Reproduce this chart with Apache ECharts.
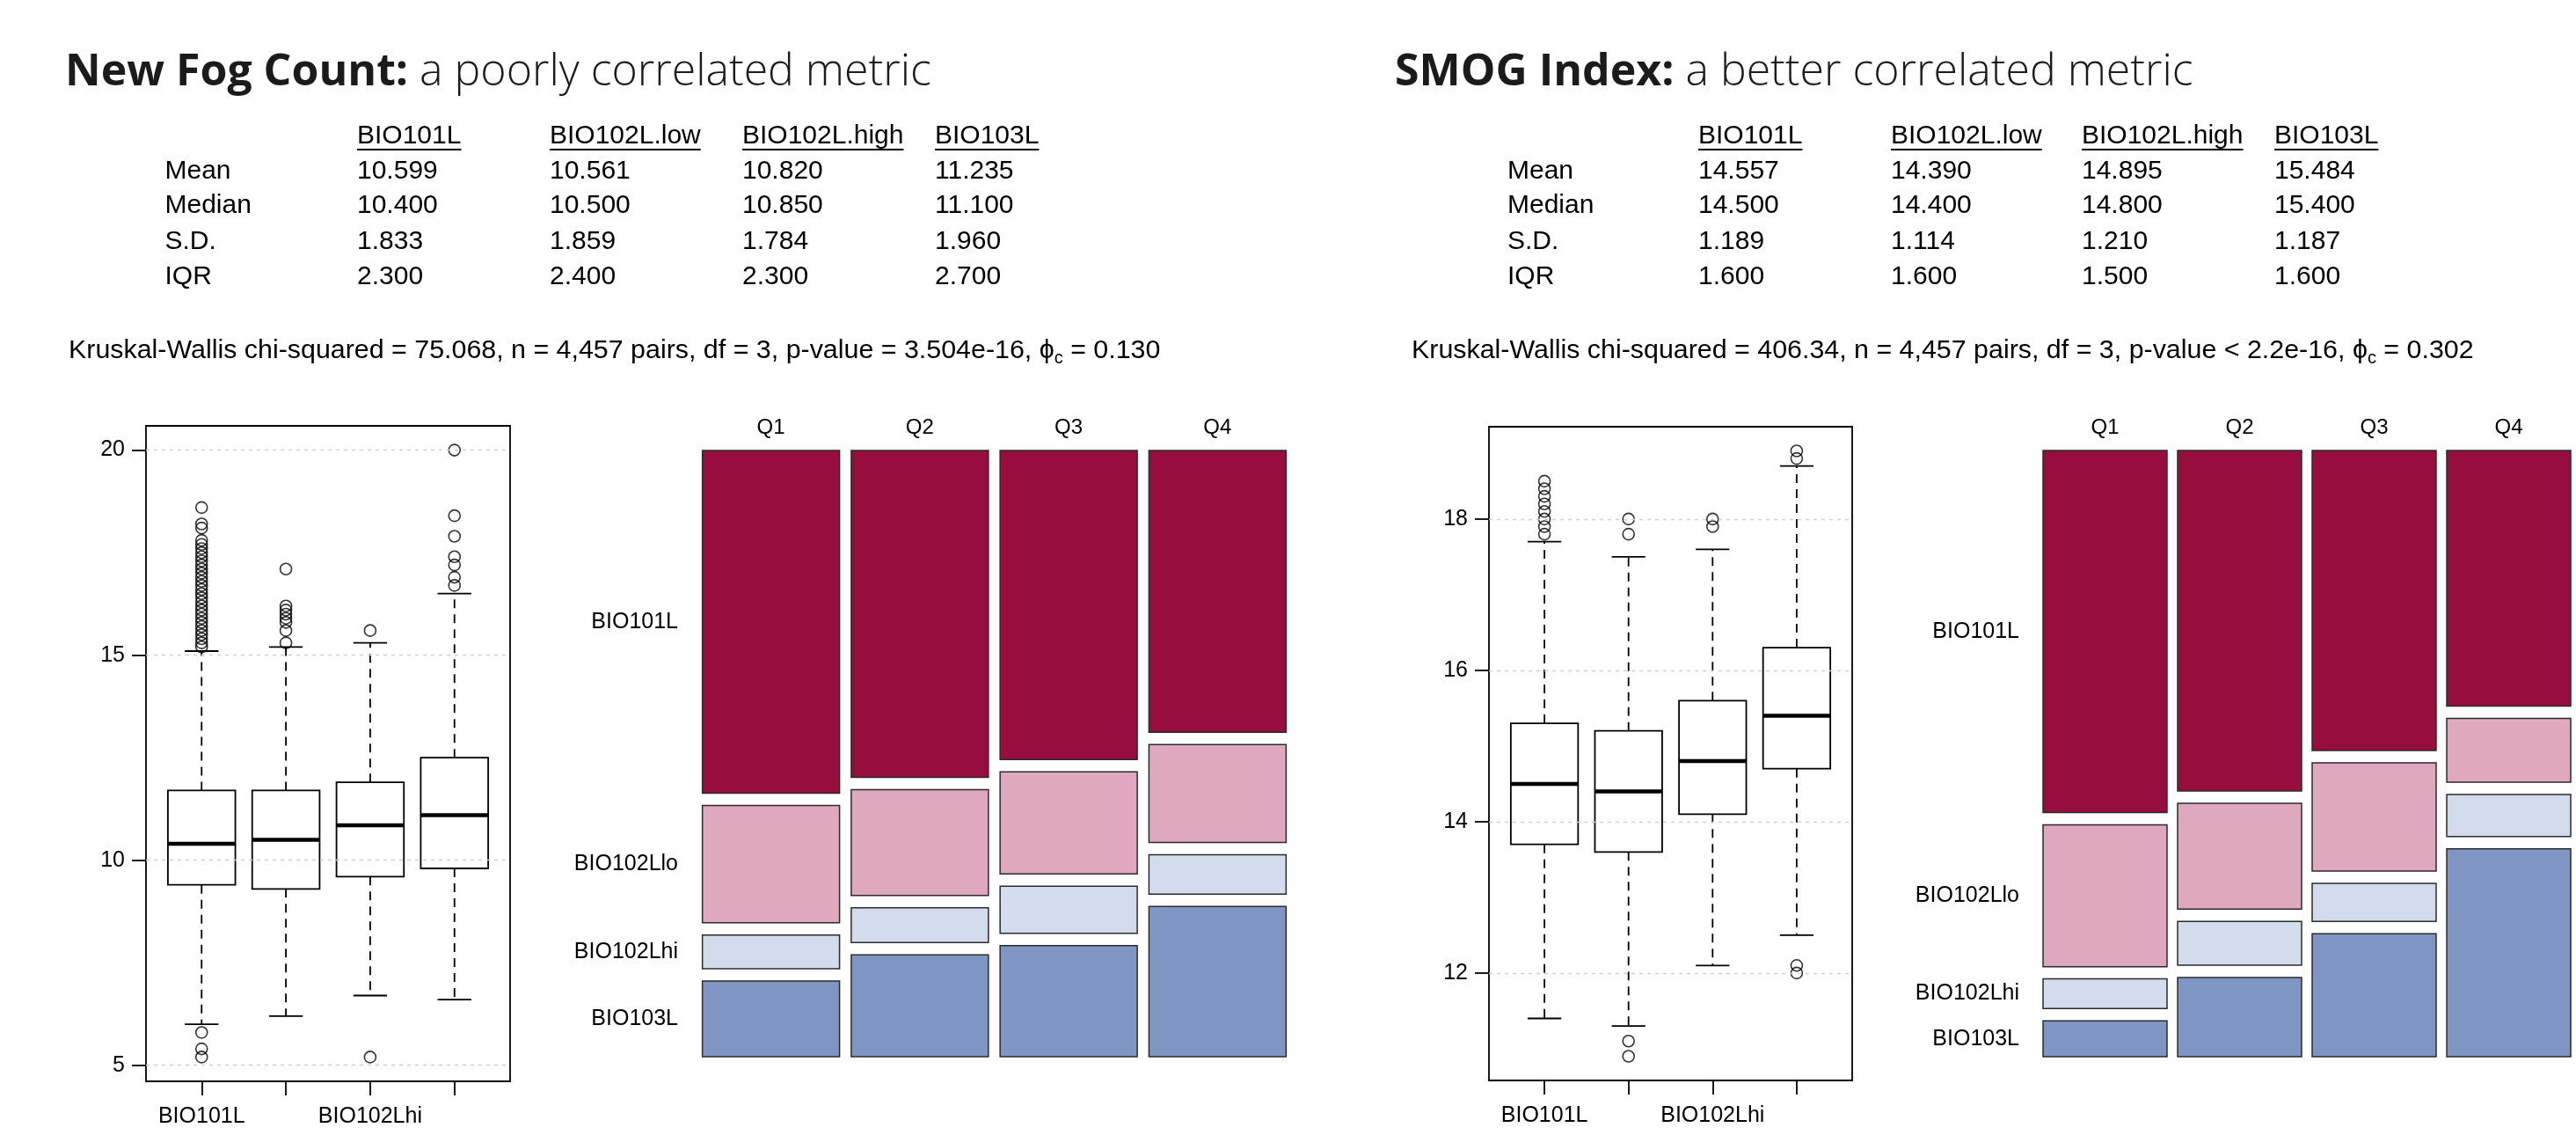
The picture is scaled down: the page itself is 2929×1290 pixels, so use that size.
<!DOCTYPE html>
<html>
<head>
<meta charset="utf-8">
<script src="https://cdn.jsdelivr.net/npm/echarts@6/dist/echarts.min.js"></script>
<style>
  html, body { margin: 0; padding: 0; background: #ffffff; }
  #chart { width: 2929px; height: 1290px; }
</style>
</head>
<body>
<div id="chart"></div>
<script>
// ---- data ----
const courses = ['BIO101L', 'BIO102L.low', 'BIO102L.high', 'BIO103L'];
const boxLabels = ['BIO101L', 'BIO102Llo', 'BIO102Lhi', 'BIO103L'];
const quartiles = ['Q1', 'Q2', 'Q3', 'Q4'];
const statRows = ['Mean', 'Median', 'S.D.', 'IQR'];

// New Fog Count summary table
const fogMean = [10.599, 10.561, 10.820, 11.235];
const fogMedian = [10.400, 10.500, 10.850, 11.100];
const fogSD = [1.833, 1.859, 1.784, 1.960];
const fogIQR = [2.300, 2.400, 2.300, 2.700];

// SMOG Index summary table
const smogMean = [14.557, 14.390, 14.895, 15.484];
const smogMedian = [14.500, 14.400, 14.800, 15.400];
const smogSD = [1.189, 1.114, 1.210, 1.187];
const smogIQR = [1.600, 1.600, 1.500, 1.600];

// boxplot five-number summaries: [lower whisker, Q1, median, Q3, upper whisker]
const fogBoxes = [
  [6.0, 9.4, 10.4, 11.7, 15.1],
  [6.2, 9.3, 10.5, 11.7, 15.2],
  [6.7, 9.6, 10.85, 11.9, 15.3],
  [6.6, 9.8, 11.1, 12.5, 16.5]
];
const fogOutliers = [
  [5.2, 5.4, 5.8, 15.2, 15.3, 15.4, 15.5, 15.6, 15.7, 15.8, 15.9, 16.0, 16.1, 16.2, 16.3,
   16.4, 16.5, 16.6, 16.7, 16.8, 16.9, 17.0, 17.1, 17.2, 17.3, 17.4, 17.5, 17.6, 17.7, 17.8,
   18.1, 18.2, 18.6],
  [15.3, 15.6, 15.8, 15.9, 16.0, 16.1, 16.2, 17.1],
  [5.2, 15.6],
  [16.7, 16.9, 17.2, 17.4, 17.9, 18.4, 20.0]
];
const fogTicks = [5, 10, 15, 20];

const smogBoxes = [
  [11.4, 13.7, 14.5, 15.3, 17.7],
  [11.3, 13.6, 14.4, 15.2, 17.5],
  [12.1, 14.1, 14.8, 15.6, 17.6],
  [12.5, 14.7, 15.4, 16.3, 18.7]
];
const smogOutliers = [
  [17.8, 17.9, 18.0, 18.1, 18.2, 18.3, 18.4, 18.5],
  [10.9, 11.1, 17.8, 18.0],
  [17.9, 18.0],
  [12.0, 12.1, 18.8, 18.9]
];
const smogTicks = [12, 14, 16, 18];

// mosaic: share of each course within each quartile (rows: Q1..Q4, cols: courses)
const fogShares = [
  [0.602, 0.206, 0.059, 0.133],
  [0.574, 0.186, 0.061, 0.179],
  [0.543, 0.179, 0.083, 0.195],
  [0.495, 0.172, 0.069, 0.264]
];
const smogShares = [
  [0.636, 0.249, 0.052, 0.063],
  [0.598, 0.186, 0.077, 0.139],
  [0.527, 0.190, 0.067, 0.216],
  [0.449, 0.112, 0.074, 0.365]
];

const fogTest = 'Kruskal-Wallis chi-squared = 75.068, n = 4,457 pairs, df = 3, p-value = 3.504e-16, ';
const fogPhi = ' = 0.130';
const smogTest = 'Kruskal-Wallis chi-squared = 406.34, n = 4,457 pairs, df = 3, p-value < 2.2e-16, ';
const smogPhi = ' = 0.302';

// ---- styling ----
const FONT = '"Liberation Sans", Arial, Helvetica, sans-serif';
const TITLE_FONT = '"Open Sans", Lato, sans-serif';
const courseColors = ['#970D3E', '#DFA8BE', '#D3DCEC', '#7F96C5'];
const GAP_X = 0.0786;   // horizontal gap between mosaic columns (axis units)
const GAP_Y = 0.0216;   // vertical gap between mosaic tiles (axis units)

// ---- helpers ----
const measureCtx = document.createElement('canvas').getContext('2d');
function textWidth(str, size) {
  measureCtx.font = size + 'px ' + FONT;
  return measureCtx.measureText(str).width;
}

function padRange(boxes, outliers) {
  const all = [].concat(...boxes, ...outliers);
  const lo = Math.min(...all), hi = Math.max(...all);
  const pad = (hi - lo) * 0.04;
  return [lo - pad, hi + pad];
}

function boxSeriesData(boxes) {
  return boxes.map((b, i) => [i + 1].concat(b));
}
function outlierData(outliers) {
  const out = [];
  outliers.forEach((list, i) => list.forEach(v => out.push([i + 1, v])));
  return out;
}
function mosaicData(shares) {
  const out = [];
  shares.forEach((col, c) => {
    let cum = 0;
    col.forEach((s, j) => {
      out.push([c, j, cum + j * GAP_Y, cum + s + j * GAP_Y]);
      cum += s;
    });
  });
  return out;
}
function rowCenters(shares) {
  const first = shares[0];
  let cum = 0;
  return first.map((s, j) => {
    const c = cum + s / 2 + j * GAP_Y;
    cum += s;
    return c;
  });
}

function renderBox(params, api) {
  const x = api.value(0);
  const lo = api.coord([x, api.value(1)]);
  const q1 = api.coord([x, api.value(2)]);
  const md = api.coord([x, api.value(3)]);
  const q3 = api.coord([x, api.value(4)]);
  const hi = api.coord([x, api.value(5)]);
  const boxW = api.size([0.8, 0])[0];
  const capW = boxW / 2;
  const cx = q1[0];
  const dash = { stroke: '#000', lineWidth: 1.8, lineDash: [10, 7], fill: null };
  const solid = { stroke: '#000', lineWidth: 1.8, fill: null };
  return {
    type: 'group',
    children: [
      { type: 'line', shape: { x1: cx, y1: q3[1], x2: cx, y2: hi[1] }, style: dash },
      { type: 'line', shape: { x1: cx, y1: q1[1], x2: cx, y2: lo[1] }, style: dash },
      { type: 'line', shape: { x1: cx - capW / 2, y1: hi[1], x2: cx + capW / 2, y2: hi[1] }, style: solid },
      { type: 'line', shape: { x1: cx - capW / 2, y1: lo[1], x2: cx + capW / 2, y2: lo[1] }, style: solid },
      { type: 'rect', shape: { x: cx - boxW / 2, y: q3[1], width: boxW, height: q1[1] - q3[1] },
        style: { fill: '#ffffff', stroke: '#000', lineWidth: 1.8 } },
      { type: 'line', shape: { x1: cx - boxW / 2, y1: md[1], x2: cx + boxW / 2, y2: md[1] },
        style: { stroke: '#000', lineWidth: 4.5 } }
    ]
  };
}

function renderTile(params, api) {
  const c = api.value(0);
  const j = api.value(1);
  const p0 = api.coord([c + GAP_X / 2, api.value(2)]);
  const p1 = api.coord([c + 1 - GAP_X / 2, api.value(3)]);
  return {
    type: 'rect',
    shape: { x: p0[0], y: p0[1], width: p1[0] - p0[0], height: p1[1] - p0[1] },
    style: { fill: courseColors[j], stroke: '#2b2b2b', lineWidth: 1.5 }
  };
}

// ---- text blocks (titles, tables, test lines) ----
function txt(x, y, text, size, align) {
  return {
    type: 'text', x: x, y: y, silent: true,
    style: {
      text: text, fontSize: size, fontFamily: FONT, fill: '#000',
      align: align || 'left', verticalAlign: 'middle',
      textAlign: align || 'left', textVerticalAlign: 'middle'
    }
  };
}

function titleText(x, y, bold, rest) {
  return {
    type: 'text', x: x, y: y, silent: true,
    style: {
      text: '{b|' + bold + '}{r|' + rest + '}',
      verticalAlign: 'middle', textVerticalAlign: 'middle',
      rich: {
        b: { fontFamily: TITLE_FONT, fontWeight: 700, fontSize: 50, fill: '#1b1b1b' },
        r: { fontFamily: TITLE_FONT, fontWeight: 300, fontSize: 50, fill: '#1b1b1b' }
      }
    }
  };
}

function testLine(x, y, body, tail) {
  return {
    type: 'text', x: x, y: y, silent: true,
    style: {
      text: '{t|' + body + '}{t|ϕ}{s|c}{t|' + tail + '}',
      verticalAlign: 'middle', textVerticalAlign: 'middle',
      rich: {
        t: { fontFamily: FONT, fontSize: 30.4, fill: '#000', lineHeight: 36 },
        s: { fontFamily: FONT, fontSize: 20, fill: '#000', lineHeight: 15, verticalAlign: 'bottom' }
      }
    }
  };
}

const TABLE_FS = 30;
const rowY = [155, 195, 234, 275, 315];

function tableBlock(labelX, colX, cols) {
  const els = [];
  courses.forEach((name, i) => {
    els.push(txt(colX[i], rowY[0], name, TABLE_FS));
    const w = textWidth(name, TABLE_FS);
    els.push({ type: 'line', silent: true,
      shape: { x1: colX[i], y1: rowY[0] + 15, x2: colX[i] + w, y2: rowY[0] + 15 },
      style: { stroke: '#000', lineWidth: 2 } });
  });
  statRows.forEach((label, r) => {
    els.push(txt(labelX, rowY[r + 1], label, TABLE_FS));
    cols[r].forEach((v, i) => els.push(txt(colX[i], rowY[r + 1], v.toFixed(3), TABLE_FS)));
  });
  return els;
}

const graphics = [].concat(
  [titleText(74, 83, 'New Fog Count:', ' a poorly correlated metric'),
   titleText(1586, 83, 'SMOG Index:', ' a better correlated metric')],
  tableBlock(187.5, [406, 625, 844, 1063], [fogMean, fogMedian, fogSD, fogIQR]),
  tableBlock(1714, [1931, 2150, 2367, 2586], [smogMean, smogMedian, smogSD, smogIQR]),
  [testLine(78, 399, fogTest, fogPhi), testLine(1605, 399, smogTest, smogPhi)]
);

// ---- axes ----
const fogRange = padRange(fogBoxes, fogOutliers);
const smogRange = padRange(smogBoxes, smogOutliers);
const fogCenters = rowCenters(fogShares);
const smogCenters = rowCenters(smogShares);
const mosaicMax = 1 + 3 * GAP_Y;

function boxXAxis(gridIndex) {
  return {
    type: 'value', gridIndex: gridIndex, min: 0.34, max: 4.66,
    axisLine: { show: false }, splitLine: { show: false },
    axisTick: { show: true, customValues: [1, 2, 3, 4], length: 16, inside: false,
      lineStyle: { color: '#000', width: 1.8 } },
    axisLabel: { show: true, customValues: [1, 3], margin: 28, fontSize: 25, fontFamily: FONT,
      color: '#000', formatter: v => boxLabels[Math.round(v) - 1] }
  };
}
function boxYAxis(gridIndex, range, ticks) {
  return {
    type: 'value', gridIndex: gridIndex, min: range[0], max: range[1],
    axisLine: { show: false }, splitLine: { show: false },
    axisTick: { show: true, customValues: ticks, length: 16, inside: false,
      lineStyle: { color: '#000', width: 1.8 } },
    axisLabel: { show: true, customValues: ticks, margin: 24, fontSize: 25, fontFamily: FONT,
      color: '#000', formatter: v => String(v) }
  };
}
function mosaicXAxis(gridIndex) {
  return {
    type: 'value', gridIndex: gridIndex, position: 'top', min: 0, max: 4,
    axisLine: { show: false }, splitLine: { show: false }, axisTick: { show: false },
    axisLabel: { show: true, customValues: [0.5, 1.5, 2.5, 3.5], margin: 14, fontSize: 24,
      fontFamily: FONT, color: '#000', formatter: v => quartiles[Math.floor(v)] }
  };
}
function mosaicYAxis(gridIndex, centers) {
  return {
    type: 'value', gridIndex: gridIndex, min: 0, max: mosaicMax, inverse: true,
    axisLine: { show: false }, splitLine: { show: false }, axisTick: { show: false },
    axisLabel: { show: true, customValues: centers, margin: 21, fontSize: 25, fontFamily: FONT,
      color: '#000', formatter: v => {
        let best = 0;
        centers.forEach((c, k) => { if (Math.abs(c - v) < Math.abs(centers[best] - v)) best = k; });
        return boxLabels[best];
      } }
  };
}

function gridLineSeries(xi, yi, ticks) {
  return {
    type: 'scatter', xAxisIndex: xi, yAxisIndex: yi, data: [], z: 1, silent: true,
    markLine: {
      silent: true, symbol: 'none', label: { show: false },
      lineStyle: { color: '#cfcfcf', type: [4, 5], width: 1.3 },
      data: ticks.map(t => ({ yAxis: t }))
    }
  };
}
function boxSeries(xi, yi, boxes) {
  return {
    type: 'custom', xAxisIndex: xi, yAxisIndex: yi, z: 2, silent: true,
    renderItem: renderBox, data: boxSeriesData(boxes)
  };
}
function outlierSeries(xi, yi, outliers) {
  return {
    type: 'scatter', xAxisIndex: xi, yAxisIndex: yi, z: 3, silent: true,
    symbol: 'circle', symbolSize: 13,
    itemStyle: { color: 'rgba(0,0,0,0)', borderColor: '#000', borderWidth: 1.6 },
    data: outlierData(outliers)
  };
}
function mosaicSeries(xi, yi, shares) {
  return {
    type: 'custom', xAxisIndex: xi, yAxisIndex: yi, silent: true,
    renderItem: renderTile, data: mosaicData(shares)
  };
}

const option = {
  animation: false,
  backgroundColor: '#ffffff',
  grid: [
    { left: 166, top: 484, width: 414, height: 745, show: true, borderColor: '#000', borderWidth: 1.8,
      backgroundColor: 'transparent' },
    { left: 792, top: 512, width: 677, height: 689 },
    { left: 1693, top: 485, width: 413, height: 743, show: true, borderColor: '#000', borderWidth: 1.8,
      backgroundColor: 'transparent' },
    { left: 2317, top: 512, width: 677, height: 689 }
  ],
  xAxis: [boxXAxis(0), mosaicXAxis(1), boxXAxis(2), mosaicXAxis(3)],
  yAxis: [
    boxYAxis(0, fogRange, fogTicks),
    mosaicYAxis(1, fogCenters),
    boxYAxis(2, smogRange, smogTicks),
    mosaicYAxis(3, smogCenters)
  ],
  series: [
    gridLineSeries(0, 0, fogTicks),
    boxSeries(0, 0, fogBoxes),
    outlierSeries(0, 0, fogOutliers),
    mosaicSeries(1, 1, fogShares),
    gridLineSeries(2, 2, smogTicks),
    boxSeries(2, 2, smogBoxes),
    outlierSeries(2, 2, smogOutliers),
    mosaicSeries(3, 3, smogShares)
  ],
  graphic: graphics
};

const chart = echarts.init(document.getElementById('chart'), null, { renderer: 'canvas', width: 2929, height: 1290 });
chart.setOption(option);
</script>
</body>
</html>
